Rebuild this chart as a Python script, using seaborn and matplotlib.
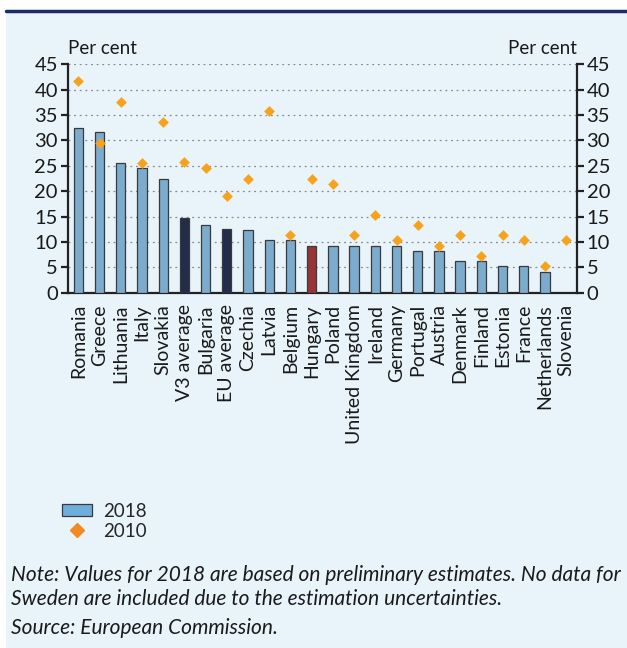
import numpy as np
import pandas as pd
import matplotlib.pyplot as plt
from matplotlib.patches import Patch
from matplotlib.lines import Line2D
import seaborn as sns

countries = ['Romania', 'Greece', 'Lithuania', 'Italy', 'Slovakia', 'V3 average',
             'Bulgaria', 'EU average', 'Czechia', 'Latvia', 'Belgium', 'Hungary',
             'Poland', 'United Kingdom', 'Ireland', 'Germany', 'Portugal', 'Austria',
             'Denmark', 'Finland', 'Estonia', 'France', 'Netherlands', 'Slovenia']
values_2018 = [32.5, 31.6, 25.5, 24.5, 22.4, 14.8, 13.3, 12.5, 12.4, 10.4, 10.4, 9.3,
               9.3, 9.3, 9.3, 9.3, 8.3, 8.3, 6.2, 6.2, 5.3, 5.3, 4.2, np.nan]
values_2010 = [41.6, 29.5, 37.5, 25.5, 33.6, 25.7, 24.5, 19.1, 22.4, 35.7, 11.3, 22.4,
               21.5, 11.3, 15.4, 10.4, 13.3, 9.3, 11.3, 7.2, 11.3, 10.4, 5.3, 10.4]

bg = '#e8f3fa'
light_blue = '#6eaedb'
navy = '#1b2a52'
red = '#a92327'
orange = '#f7a21b'

bar_colors = {c: light_blue for c in countries}
bar_colors['V3 average'] = navy
bar_colors['EU average'] = navy
bar_colors['Hungary'] = red

df = pd.DataFrame({'country': countries, 'v2018': values_2018, 'v2010': values_2010})

sns.set_style('white')
plt.rcParams['font.family'] = ['Lato', 'DejaVu Sans']

fig = plt.figure(figsize=(6.27, 6.48), dpi=100)
fig.patch.set_facecolor('white')
# light blue panel with navy rule on top
fig.add_artist(plt.Rectangle((0.01, 0.0), 0.99, 0.983, transform=fig.transFigure,
                             facecolor=bg, edgecolor='none', zorder=-10))
fig.add_artist(Line2D([0.01, 1.0], [0.983, 0.983], transform=fig.transFigure,
                      color='#1b2a6b', lw=2.5))

ax = fig.add_axes([0.108, 0.548, 0.812, 0.353])
ax.set_facecolor(bg)

sns.barplot(data=df, x='country', y='v2018', hue='country', palette=bar_colors,
            legend=False, width=0.44, edgecolor='#3a3a3a', linewidth=0.9, ax=ax, zorder=3)
sns.stripplot(data=df, x='country', y='v2010', color=orange, marker='D', size=5.5,
              jitter=False, linewidth=0, ax=ax, zorder=4)

ax.set_ylim(0, 45)
ax.set_xlim(-0.5, len(countries) - 0.5)
ax.set_yticks(range(0, 46, 5))
ax.yaxis.grid(True, linestyle=(0, (1.5, 3)), color='#8a8a8a', lw=0.9, zorder=0)
ax.set_xlabel('')
ax.set_ylabel('')

ax.spines['top'].set_visible(False)
for side in ['left', 'right', 'bottom']:
    ax.spines[side].set_visible(True)
    ax.spines[side].set_color('#222222')
    ax.spines[side].set_linewidth(1.6)

ax.set_xticks(range(len(countries)))
ax.set_xticklabels(countries, rotation=90, fontsize=14, color='#1a1a1a')
ax.tick_params(axis='x', length=0, pad=8)
ax.set_xticks(np.arange(-0.5, len(countries), 1), minor=True)
ax.tick_params(axis='x', which='minor', length=5, width=1.6, direction='out', color='#222222')
ax.tick_params(axis='y', left=True, right=True, labelleft=True, labelright=True,
               length=5, width=1.6, direction='out', labelsize=14.5, color='#222222',
               labelcolor='#1a1a1a', pad=2)

ax.text(0.0, 1.03, 'Per cent', transform=ax.transAxes, ha='left', va='bottom',
        fontsize=13.5, color='#1a1a1a')
ax.text(1.0, 1.03, 'Per cent', transform=ax.transAxes, ha='right', va='bottom',
        fontsize=13.5, color='#1a1a1a')

handles = [Patch(facecolor=light_blue, edgecolor='#3a3a3a', linewidth=0.9),
           Line2D([], [], marker='D', color='#f28a20', linestyle='none', markersize=7.5)]
fig.legend(handles, ['2018', '2010'], loc='upper left', bbox_to_anchor=(0.072, 0.25),
           frameon=False, fontsize=13.5, handlelength=1.6, handleheight=0.6,
           handletextpad=0.6, labelspacing=0.15)

fig.text(0.018, 0.103, 'Note: Values for 2018 are based on preliminary estimates. No data for',
         fontsize=15, style='italic', color='#1a1a1a')
fig.text(0.018, 0.067, 'Sweden are included due to the estimation uncertainties.',
         fontsize=15, style='italic', color='#1a1a1a')
fig.text(0.018, 0.022, 'Source: European Commission.',
         fontsize=15, style='italic', color='#1a1a1a')

fig.savefig('out.png', dpi=100, facecolor=fig.get_facecolor())
